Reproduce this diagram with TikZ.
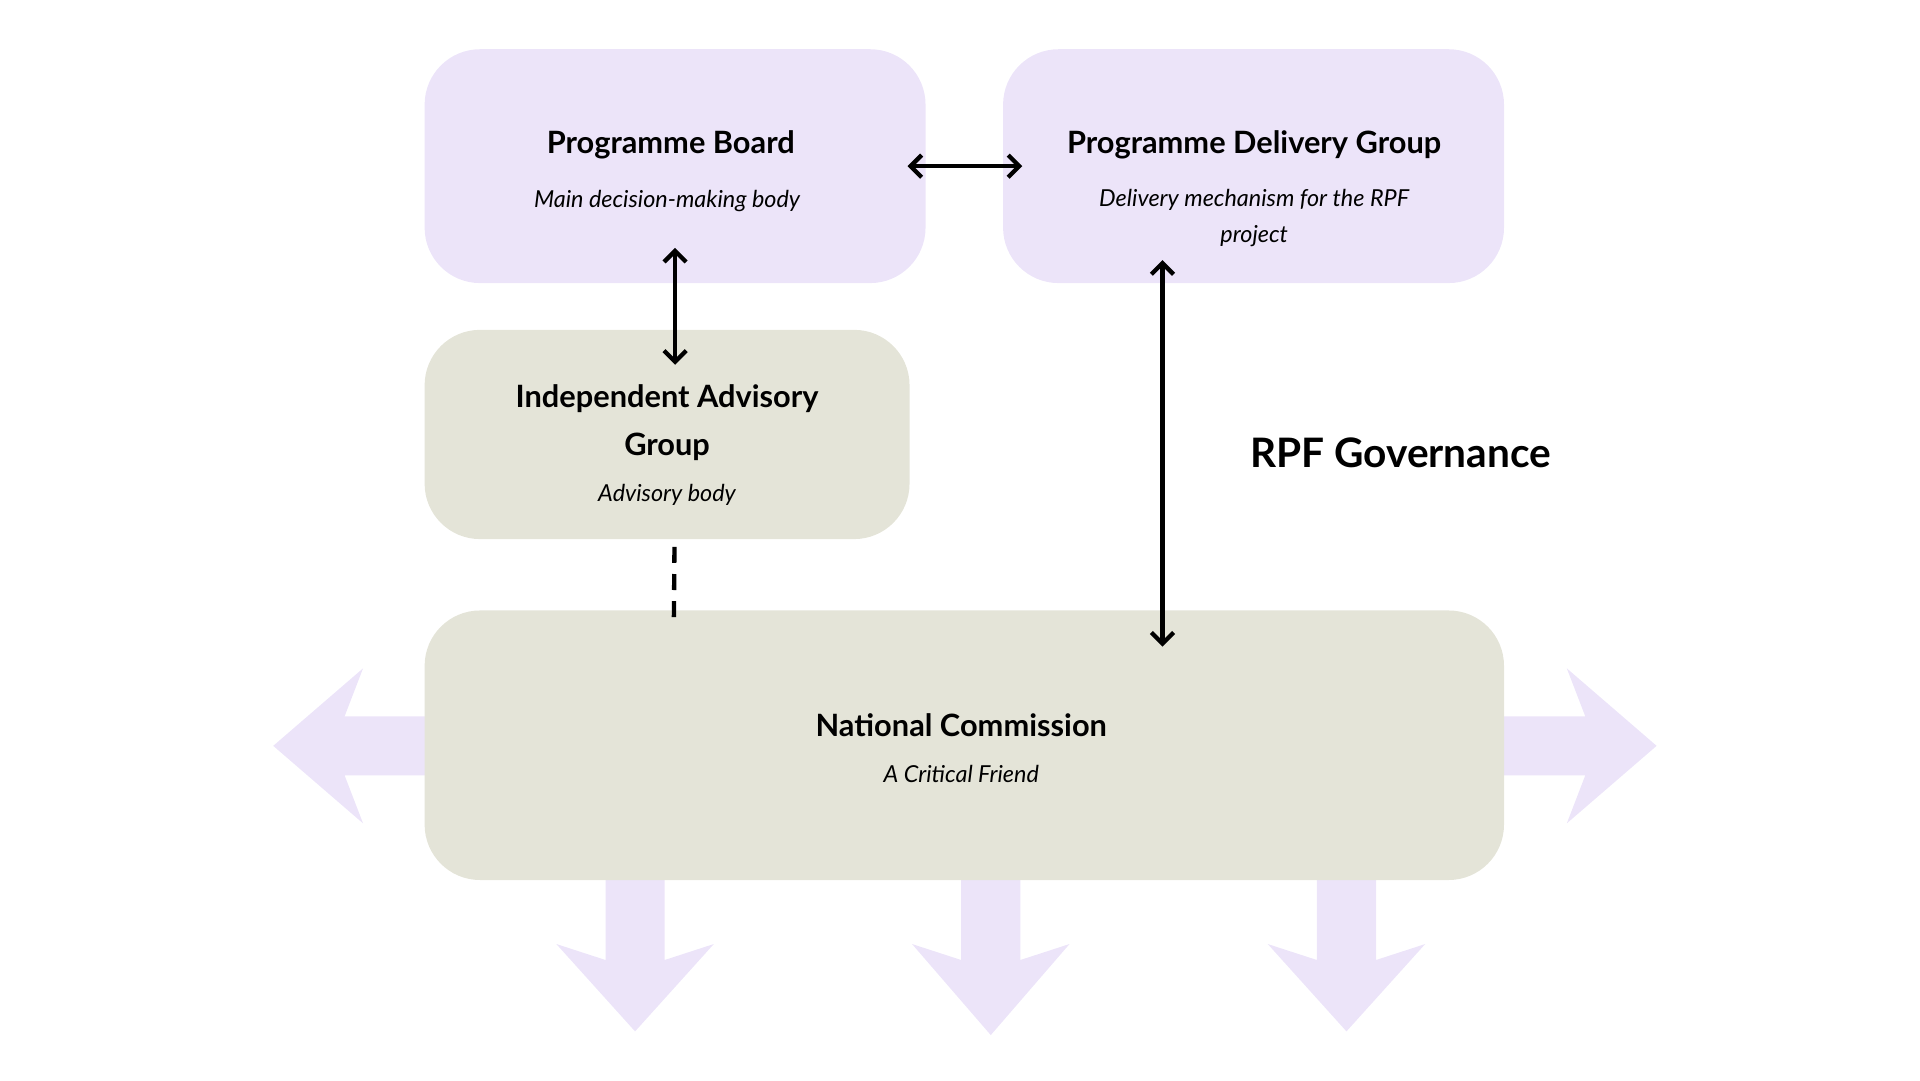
\documentclass[tikz,border=0pt]{standalone}
\usepackage{fontspec}
\setmainfont{Lato}
\usetikzlibrary{arrows.meta,calc}
\definecolor{lilac}{HTML}{ECE4F9}
\definecolor{stone}{HTML}{E4E4D8}
\tikzset{every picture/.style={line width=0.75pt}}
\tikzset{
  box/.style={rounded corners=45pt,draw=none,inner sep=0pt},
  ttl/.style={font=\fontsize{25}{32}\selectfont\bfseries,align=center},
  sub/.style={font=\fontsize{19}{29}\selectfont\itshape,align=center},
  dbl/.style={line width=3.5pt,{Straight Barb[length=9pt,width=18pt]}-{Straight Barb[length=9pt,width=18pt]}},
  fat/.style={fill=lilac,draw=none}
}
\begin{document}
\begin{tikzpicture}[x=1pt,y=-1pt]
		\useasboundingbox (0,0) rectangle (1560,878);

		%fat arrows behind the commission
		\fill[fat] (350,582) -- (280,582) -- (295,543) -- (222,606) -- (295,669) -- (280,630) -- (350,630) -- cycle;
		\fill[fat] (1218,582) -- (1288,582) -- (1273,543) -- (1346,606) -- (1273,669) -- (1288,630) -- (1218,630) -- cycle;
		\foreach \cx/\ty in {516/838,805/841,1094/838}{
			\fill[fat] (\cx-24,710) -- (\cx-24,780) -- (\cx-64,767) -- (\cx,\ty) -- (\cx+64,767) -- (\cx+24,780) -- (\cx+24,710) -- cycle;
		}

		%boxes
		\node[box,fill=lilac,minimum width=407pt,minimum height=190pt] (pb) at (548.5,135) {};
		\node[box,fill=lilac,minimum width=407pt,minimum height=190pt] (pdg) at (1018.5,135) {};
		\node[box,fill=stone,minimum width=394pt,minimum height=170pt] (iag) at (542,353) {};
		\node[box,fill=stone,minimum width=877pt,minimum height=219pt] (nc) at (783.5,605.5) {};

		%texts
		\node[ttl] (pbt) at (545,118) {Programme Board};
		\node[sub] (pbs) at (542,163) {Main decision-making body};
		\node[ttl] (pdgt) at (1019,118) {Programme Delivery Group};
		\node[sub] (pdgs) at (1019,177) {Delivery mechanism for the RPF\\project};
		\node[ttl,font=\fontsize{25}{39}\selectfont\bfseries] (iagt) at (542,343) {Independent Advisory\\Group};
		\node[sub] (iags) at (542,402) {Advisory body};
		\node[ttl] (nct) at (781,589) {National Commission};
		\node[sub] (ncs) at (781,629) {A Critical Friend};
		\node[font=\fontsize{33}{40}\selectfont\bfseries] (gov) at (1138,368) {RPF Governance};

		%connectors
		\draw[dbl] ($(pb.east)+(-15,0)$) -- ($(pdg.west)+(16,0)$);
		\draw[dbl] ($(pb.south)+(0,-29)$) -- ($(pb.south)+(0,66)$);
		\draw[dbl] ($(pdg.south)+(-74,-19)$) -- ($(pdg.south)+(-74,295)$);
		\draw[line width=3.5pt,dash pattern=on 13pt off 9pt] ($(iag.south)+(6,6)$) -- ($(nc.north)+(-236,9)$);

	\end{tikzpicture}
\end{document}
